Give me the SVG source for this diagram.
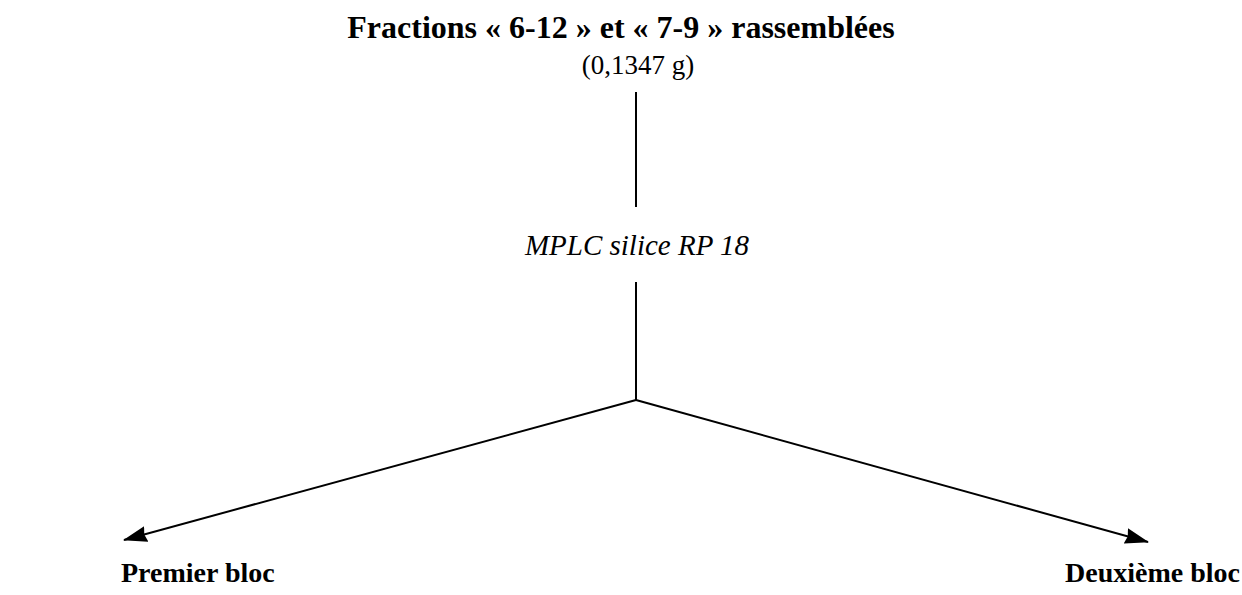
<svg xmlns="http://www.w3.org/2000/svg" width="1242" height="595" viewBox="0 0 1242 595">
<style>
text{font-family:"Liberation Serif","Times New Roman",serif;fill:#000}
.t{font-weight:bold;font-size:32px}
.b{font-weight:bold;font-size:28px}
.n{font-size:27px}
.i{font-style:italic;font-size:29px}
.ln{stroke:#000;stroke-width:2;fill:none}
</style>
<defs>
<marker id="ah" markerWidth="24" markerHeight="16" refX="23" refY="8" orient="auto" markerUnits="userSpaceOnUse" viewBox="0 0 24 16">
<path d="M0,0 L24,8 L0,16 L2,8 Z" fill="#000"/>
</marker>
</defs>
<rect width="1242" height="595" fill="#fff"/>
<g id="top">
<text class="t" x="621" y="38" text-anchor="middle">Fractions « 6-12 » et « 7-9 » rassemblées</text>
<text class="n" x="638" y="74" text-anchor="middle">(0,1347 g)</text>
</g>
<g id="mplc">
<text class="i" x="637" y="255" text-anchor="middle">MPLC silice RP 18</text>
</g>
<g id="premier">
<text class="b" x="121" y="582">Premier bloc</text>
</g>
<g id="deuxieme">
<text class="b" x="1240" y="582" text-anchor="end">Deuxième bloc</text>
</g>
<g id="connectors">
<line class="ln" x1="636" y1="92" x2="636" y2="207"/>
<line class="ln" x1="636" y1="282" x2="636" y2="400"/>
<line class="ln" x1="636" y1="400" x2="124" y2="540" marker-end="url(#ah)"/>
<line class="ln" x1="636" y1="400" x2="1148" y2="542" marker-end="url(#ah)"/>
</g>
</svg>
